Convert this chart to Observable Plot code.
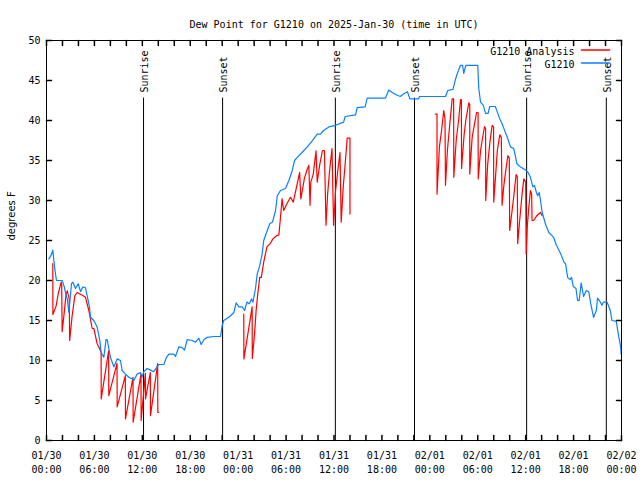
<!DOCTYPE html>
<html><head><meta charset="utf-8">
<script src="https://cdn.jsdelivr.net/npm/d3@7"></script>
<script src="https://cdn.jsdelivr.net/npm/@observablehq/plot@0.6"></script>
<style>body{margin:0;background:#fff}svg{display:block}</style>
</head><body><div id="chart"></div>
<script>
// Hours since 2025-01-30 00:00 UTC
const obsT = [0.29,0.6,0.79,0.92,1.1,1.25,1.96,2.2,2.38,2.6,2.8,3.13,3.3,3.63,3.97,4.26,4.55,4.88,5.09,5.38,5.51,5.93,6.34,6.68,6.84,7.18,7.45,7.6,8.01,8.43,8.85,9.27,9.47,9.89,10.31,10.73,10.93,11.35,11.77,11.95,12.18,12.6,13.02,13.44,13.86,14.06,14.69,15.03,15.32,15.94,16.15,16.57,16.99,17.28,17.62,18.24,18.66,19.07,19.37,19.7,20.12,20.95,21.79,22.0,22.2,22.83,23.04,23.46,23.75,24.1,24.5,24.8,25.1,25.4,25.67,25.85,26.17,26.38,26.71,27.0,27.2,27.55,27.96,28.3,28.68,28.9,29.3,29.93,30.35,30.77,31.06,31.4,32.0,32.65,33.15,33.9,34.3,34.7,35.35,36.2,37.2,37.4,38.7,38.9,39.9,40.15,42.45,42.86,43.3,43.7,44.3,44.7,45.2,45.5,46.6,46.7,49.96,50.25,50.9,51.2,51.4,51.84,52.1,52.25,52.5,54.0,54.13,54.35,54.7,54.97,55.3,55.5,56.2,56.4,56.76,57.05,57.35,57.7,58.1,58.5,58.7,58.9,59.35,60.0,60.3,60.6,60.9,61.1,61.35,61.5,61.7,61.86,62.07,62.5,62.9,63.3,63.5,63.85,64.4,64.8,65.0,65.25,65.55,65.75,65.95,66.3,66.5,66.7,66.95,67.25,67.6,67.9,68.15,68.5,68.85,69.0,69.35,69.55,69.75,70.2,70.6,70.8,71.35,71.6,71.9,71.95];
const obsV = [22.7,23.2,23.8,22.5,21.0,20.0,20.0,19.3,18.5,17.7,16.0,19.6,19.8,19.0,19.6,18.6,19.2,19.1,18.1,16.7,15.4,15.0,14.2,12.5,11.0,10.4,12.6,12.6,10.4,9.2,10.2,10.0,8.75,8.3,7.9,7.7,7.5,8.3,8.5,7.9,8.6,9.0,8.8,8.6,9.2,9.5,9.5,10.4,10.8,10.8,10.5,11.7,11.6,11.3,12.6,12.5,12.3,12.8,12.0,12.6,12.9,13.0,13.0,14.4,15.0,15.4,15.6,16.0,17.2,16.7,16.7,16.25,17.3,17.1,17.7,17.3,19.0,20.8,21.9,23.3,25.0,26.0,27.1,27.3,28.75,30.6,31.25,31.5,32.5,33.75,35.0,35.4,36.0,36.7,37.3,38.3,38.3,38.75,39.2,39.4,39.8,40.5,40.7,41.6,41.7,42.8,42.8,43.8,43.5,43.25,43.0,43.3,43.6,42.7,42.7,43.0,43.0,43.75,43.9,45.1,45.75,46.9,46.9,45.9,46.9,46.9,44.0,42.3,41.9,40.9,40.9,41.75,41.75,41.2,40.2,39.6,38.8,37.9,36.7,36.5,35.6,34.6,34.2,33.8,33.5,32.9,31.7,31.9,31.0,30.6,31.0,30.0,28.5,27.0,26.0,25.6,25.4,24.4,23.3,22.3,22.1,20.4,20.1,20.4,19.25,19.0,17.5,17.5,19.7,18.0,18.75,18.6,17.1,15.4,16.25,17.8,17.3,16.9,17.3,17.3,16.25,15.0,14.9,13.3,11.7,10.8];

// Analysis series (NaN = gap)
const anaT = [0.79,0.8,1.2,1.5,1.84,1.9,1.96,2.2,2.45,2.6,2.85,2.9,3.2,3.55,3.84,4.59,4.88,5.3,5.72,5.93,6.34,6.6,6.84,6.85,7.78,7.8,8.83,8.85,9.87,9.89,10.83,10.85,11.83,11.85,12.38,12.4,13.0,13.02,13.92,13.94,14.05,
  19,
  24.7,24.72,25.75,25.77,26.05,26.25,26.45,26.7,26.9,27.2,27.6,28.0,28.35,28.8,29.1,29.3,29.5,29.7,30.1,30.55,30.9,31.7,31.85,32.3,32.65,32.85,33.0,33.1,33.4,33.75,33.9,34.2,34.55,34.8,35.0,35.2,35.45,35.75,35.95,36.2,36.5,36.75,36.9,37.15,37.45,37.65,38.0,38.0,
  43,
  48.7,48.9,48.9,49.2,49.5,49.74,49.9,49.96,50.2,50.5,50.8,50.98,51.0,51.3,51.6,51.84,51.95,51.97,52.3,52.5,52.88,53.0,53.0,53.3,53.6,53.85,54.04,54.06,54.35,54.55,54.85,54.98,55.0,55.25,55.5,55.8,55.98,56.0,56.25,56.45,56.76,56.95,57.05,57.25,57.45,57.77,57.95,58.0,58.3,58.5,58.8,58.95,59.0,59.25,59.55,59.77,60.0,60.06,60.2,60.4,60.6,60.75,60.8,61.0,61.4,61.86,62.07];
const anaV = [22.1,15.75,16.8,18.5,19.8,19.5,13.6,15.8,18.3,18.7,17.7,12.5,15.5,18.1,18.5,18.1,17.9,16.25,14.0,14.0,12.1,11.6,11.0,5.2,11.2,5.6,9.65,4.2,8.1,2.7,7.9,2.3,8.3,2.5,8.4,5.2,8.5,3.1,9.6,3.5,3.5,
  NaN,
  15.8,10.2,16.7,10.25,13.3,16.25,18.3,20.4,20.4,22.3,24.2,24.6,25.2,25.6,25.7,27.9,30.2,28.75,29.6,30.4,29.8,33.5,30.2,32.8,33.9,34.4,29.4,32.3,33.3,36.2,32.3,34.4,36.25,36.25,26.9,30.8,33.75,36.5,26.9,31.25,33.9,36.0,27.3,31.6,35.2,37.8,37.8,28.3,
  NaN,
  40.8,40.8,30.8,36.7,39.0,41.25,40.2,31.9,36.25,39.6,42.7,42.7,32.9,37.5,40.0,42.6,42.6,34.0,38.3,40.0,42.2,42.0,33.3,37.9,39.6,41.0,41.0,32.7,36.25,37.5,39.25,39.0,30.0,34.6,37.1,39.4,39.2,29.8,33.3,36.25,38.2,37.9,29.4,31.7,33.3,35.6,35.3,26.25,28.75,30.4,33.25,33.0,24.6,27.5,30.8,32.7,32.3,23.3,26.7,29.2,31.25,30.8,27.5,27.5,28.1,28.5,28.1];

const sunriseT = [12.15, 36.17, 60.12];
const sunsetT = [22.05, 46.08, 70.1];
const eventTop = 42.8;     // top of the sun event lines (deg F)
const eventLabelY = 43.5;  // start of rotated labels (deg F)

const xLabelTicks = [0,6,12,18,24,30,36,42,48,54,60,66,72];
const xDateLabels = ["01/30","01/30","01/30","01/30","01/31","01/31","01/31","01/31","02/01","02/01","02/01","02/01","02/02"];
const xTimeLabels = ["00:00","06:00","12:00","18:00","00:00","06:00","12:00","18:00","00:00","06:00","12:00","18:00","00:00"];
const xAllTicks = [0,2,4,6,8,10,12,14,16,18,20,22,24,26,28,30,32,34,36,38,40,42,44,46,48,50,52,54,56,58,60,62,64,66,68,70,72];
const yTicks = [0,5,10,15,20,25,30,35,40,45,50];

const titleText = "Dew Point for G1210 on 2025-Jan-30 (time in UTC)";
const yLabelText = "degrees F";
const seriesNames = ["G1210 Analysis", "G1210"];
const seriesColors = ["#ff0000", "#0a80ff"];

const obs = obsT.map((t, i) => ({t, v: obsV[i]}));
const ana = anaT.map((t, i) => ({t, v: anaV[i]}));
const events = [...sunriseT.map(t => ({t, name: "Sunrise"})), ...sunsetT.map(t => ({t, name: "Sunset"}))];

const tickShape = {draw(ctx, l) { ctx.moveTo(0, 0); ctx.lineTo(0, -l); }};
const mono = "'DejaVu Sans Mono', monospace";
const tickLen = 5;

function legendEntry(i) {
  const dy = 9.5 + i * 13;
  return [
    Plot.text([seriesNames[i]], {text: d => d, frameAnchor: "top-right", textAnchor: "end", dx: -47, dy: dy - 2.5, fontFamily: mono, fontSize: 10, fill: "#000"}),
    Plot.vector([seriesNames[i]], {frameAnchor: "top-right", length: 28, rotate: 90, anchor: "start", shape: tickShape, dx: -40, dy, stroke: seriesColors[i]})
  ];
}

const chart = Plot.plot({
  width: 640, height: 480,
  marginLeft: 46, marginRight: 19, marginTop: 40, marginBottom: 40,
  style: {fontFamily: mono, fontSize: "10px", background: "#fff", color: "#000"},
  x: {domain: [0, 72], axis: null},
  y: {domain: [0, 50], axis: null},
  marks: [
    Plot.ruleX(events, {x: "t", y1: 0, y2: eventTop, stroke: "#000", strokeWidth: 1}),
    Plot.text(events, {x: "t", y: eventLabelY, text: "name", rotate: -90, textAnchor: "start", lineAnchor: "middle", fontFamily: mono, fontSize: 10, dx: 1, fill: "#000"}),
    Plot.line(ana, {x: "t", y: "v", stroke: seriesColors[0], strokeWidth: 1.2}),
    Plot.line(obs, {x: "t", y: "v", stroke: seriesColors[1], strokeWidth: 1.2}),
    Plot.frame({stroke: "#000", strokeWidth: 1}),
    Plot.vector(xAllTicks, {x: d => d, y: 0, length: tickLen, rotate: 0, anchor: "start", shape: tickShape, stroke: "#000"}),
    Plot.vector(xAllTicks, {x: d => d, y: 50, length: tickLen, rotate: 180, anchor: "start", shape: tickShape, stroke: "#000"}),
    Plot.vector(yTicks, {x: 0, y: d => d, length: tickLen, rotate: 90, anchor: "start", shape: tickShape, stroke: "#000"}),
    Plot.vector(yTicks, {x: 72, y: d => d, length: tickLen, rotate: -90, anchor: "start", shape: tickShape, stroke: "#000"}),
    Plot.text(xLabelTicks, {x: d => d, y: 0, text: (d, i) => xDateLabels[i] + "\n" + xTimeLabels[i], lineAnchor: "top", dy: 9, lineHeight: 1.4, fontFamily: mono, fontSize: 10, fill: "#000"}),
    Plot.text(yTicks, {x: 0, y: d => d, text: d => String(d), textAnchor: "end", dx: -6, fontFamily: mono, fontSize: 10, fill: "#000"}),
    Plot.text([yLabelText], {text: d => d, frameAnchor: "left", rotate: -90, dx: -35, fontFamily: "'DejaVu Sans', sans-serif", fontSize: 10, fill: "#000"}),
    Plot.text([titleText], {text: d => d, frameAnchor: "top", dy: -20, fontFamily: mono, fontSize: 10, fill: "#000"}),
    ...legendEntry(0),
    ...legendEntry(1)
  ]
});
document.getElementById("chart").appendChild(chart);
</script>
</body></html>
